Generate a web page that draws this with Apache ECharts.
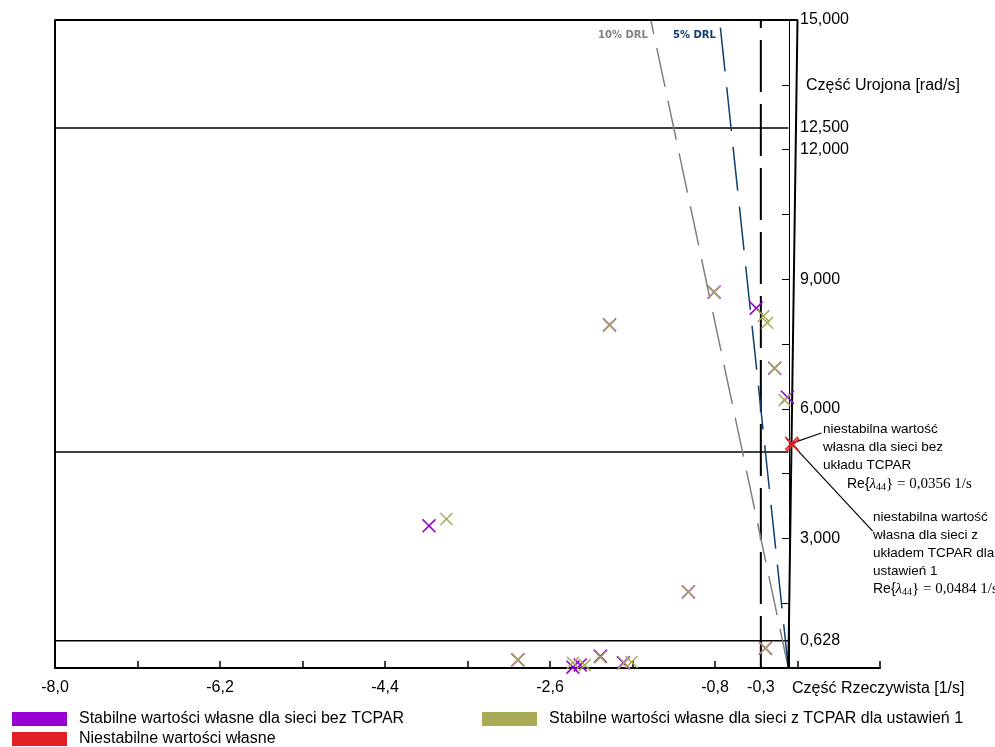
<!DOCTYPE html>
<html>
<head>
<meta charset="utf-8">
<script src="https://cdn.jsdelivr.net/npm/echarts@6/dist/echarts.min.js"></script>
<style>html,body{margin:0;padding:0;background:#fff}#c{width:995px;height:747px}</style>
</head>
<body>
<div id="c"></div>
<script>
// ---- data (real part [1/s], imaginary part [rad/s]) ----
const seriesNames = [
  'Stabilne wartości własne dla sieci bez TCPAR',
  'Stabilne wartości własne dla sieci z TCPAR dla ustawień 1',
  'Niestabilne wartości własne'
];
const stableNoTcpar = [
  [-3.92, 3.29], [-0.35, 8.33], [-0.01, 6.27], [-0.81, 8.70], [-0.15, 6.94],
  [-1.09, 1.76], [-2.95, 0.19], [-0.25, 0.46], [-1.95, 7.94],
  [-2.35, 0.02], [-2.27, 0.07], [-2.05, 0.27], [-1.80, 0.12]
];
const stableTcpar = [
  [-3.73, 3.45], [-1.95, 7.94], [-0.81, 8.70], [-0.27, 8.15], [-0.23, 7.99],
  [-0.15, 6.94], [-0.04, 6.20], [-1.09, 1.76], [-2.95, 0.19], [-0.25, 0.46],
  [-2.35, 0.12], [-2.22, 0.07], [-2.05, 0.25], [-1.79, 0.12], [-1.71, 0.14]
];
const unstable = [[0.0356, 5.20], [0.0484, 5.16]];
const drl10 = [[0, 0], [-1.50, 15]];
const drl5 = [[0, 0], [-0.75, 15]];
const refLines = [12.5, 5.0, 0.628];
const xTickValues = [-8, -7.1, -6.2, -5.3, -4.4, -3.5, -2.6, -1.7, -0.8, 0.1, 1.0];
const xLabelValues = [-8, -6.2, -4.4, -2.6, -0.8, -0.3];
const yTickValues = [0, 1.5, 3, 4.5, 6, 7.5, 9, 10.5, 12, 13.5, 15];
const yLabelValues = [0.628, 3, 6, 9, 12, 12.5, 15];
const xDashedLine = -0.3;
const frameLine = [[-8, 0], [-8, 15], [0.1, 15], [0, 0]];
const leader1 = [[0.0356, 5.20], [0.36, 5.44]];
const leader2 = [[0.0484, 5.16], [0.92, 3.17]];

const FONT = '"Liberation Sans", Arial, sans-serif';
const SERIF = '"Liberation Serif", "Times New Roman", serif';
const XSYM = 'path://M0.8,0 L5,4.2 L9.2,0 L10,0.8 L5.8,5 L10,9.2 L9.2,10 L5,5.8 L0.8,10 L0,9.2 L4.2,5 L0,0.8 Z';
const PURPLE = '#9400d3', OLIVE = '#a8aa55', RED = '#e31e24';

const chart = echarts.init(document.getElementById('c'), null, {renderer: 'canvas'});

function plainLine(data, color, width, type, z) {
  return {
    type: 'line', data: data, symbol: 'none', silent: true, clip: false, z: z || 2,
    lineStyle: {color: color, width: width, type: type || 'solid'}, animation: false
  };
}

const series = [];
series.push(plainLine(frameLine, '#000', 2, 'solid', 3));
refLines.forEach(v => series.push(plainLine([[-8, v], [0, v]], '#000', 1.5)));
series.push(plainLine([[xDashedLine, 0], [xDashedLine, 15]], '#000', 2, [52, 12]));
series.push(plainLine(drl10, '#808080', 1.5, [40, 14]));
series.push(plainLine(drl5, '#0d3f73', 1.5, [44, 16]));
series.push(plainLine(leader1, '#000', 1.2, 'solid', 4));
series.push(plainLine(leader2, '#000', 1.2, 'solid', 4));
series.push({name: seriesNames[0], type: 'scatter', data: stableNoTcpar, symbol: XSYM, symbolSize: 14, itemStyle: {color: PURPLE, opacity: 1}, z: 5, clip: false});
series.push({name: seriesNames[1], type: 'scatter', data: stableTcpar, symbol: XSYM, symbolSize: 13, itemStyle: {color: OLIVE, opacity: 1}, z: 6, clip: false});
series.push({name: seriesNames[2], type: 'scatter', data: unstable, symbol: XSYM, symbolSize: 14, itemStyle: {color: RED, opacity: 1}, z: 7, clip: false});

const legendCommon = {
  icon: 'rect', itemWidth: 55, itemHeight: 14, padding: 0, selectedMode: false,
  textStyle: {fontSize: 16, color: '#000', fontFamily: FONT, padding: [0, 0, 0, 7]}
};

const txt = (text, x, y, extra) => ({
  type: 'text', x: x, y: y, silent: true,
  style: Object.assign({text: text, fill: '#000', font: '13.5px ' + FONT, verticalAlign: 'middle'}, extra || {})
});
const reRich = {
  a: {fontFamily: FONT, fontSize: 14},
  l: {fontFamily: SERIF, fontSize: 15, fontStyle: 'italic'},
  s: {fontFamily: SERIF, fontSize: 10, verticalAlign: 'bottom', padding: [6, 0, 0, 0]}
};
const reText = (val, x, y) => ({
  type: 'text', x: x, y: y, silent: true,
  style: {text: '{a|Re{}{l|λ}{s|44}} = ' + val + ' 1/s', fill: '#000', font: '15px ' + SERIF, verticalAlign: 'middle', rich: reRich}
});

chart.setOption({
  animation: false,
  backgroundColor: '#fff',
  grid: {left: 55, right: 115, top: 20, bottom: 79, containLabel: false},
  xAxis: {
    type: 'value', min: -8, max: 1.0, interval: 0.9,
    axisLine: {onZero: false, lineStyle: {color: '#000', width: 2}},
    axisTick: {show: true, inside: true, length: 7, lineStyle: {color: '#000', width: 1.5}, customValues: xTickValues},
    axisLabel: {
      color: '#000', fontSize: 16, fontFamily: FONT, margin: 12,
      customValues: xLabelValues, showMinLabel: true, showMaxLabel: true,
      formatter: v => v.toFixed(1).replace('.', ',')
    },
    splitLine: {show: false}
  },
  yAxis: {
    type: 'value', min: 0, max: 15, interval: 1.5, position: 'right', offset: -91,
    axisLine: {onZero: false, lineStyle: {color: '#000', width: 1}},
    axisTick: {show: true, inside: true, length: 7, lineStyle: {color: '#000', width: 1}, customValues: yTickValues},
    axisLabel: {
      color: '#000', fontSize: 16, fontFamily: FONT, margin: 11,
      customValues: yLabelValues, showMinLabel: true, showMaxLabel: true,
      formatter: v => v.toFixed(3).replace('.', ',')
    },
    splitLine: {show: false}
  },
  legend: [
    Object.assign({data: [seriesNames[0]], left: 12, top: 711}, legendCommon),
    Object.assign({data: [seriesNames[1]], left: 482, top: 711}, legendCommon),
    Object.assign({data: [seriesNames[2]], left: 12, top: 731}, legendCommon)
  ],
  graphic: [
    txt('Część Urojona [rad/s]', 806, 86, {font: '16px ' + FONT}),
    txt('Część Rzeczywista [1/s]', 792, 689, {font: '16px ' + FONT}),
    txt('10% DRL', 598, 35, {font: 'bold 10px "DejaVu Sans", sans-serif', fill: '#808080'}),
    txt('5% DRL', 673, 35, {font: 'bold 10px "DejaVu Sans", sans-serif', fill: '#0d3f73'}),
    txt('niestabilna wartość', 823, 429),
    txt('własna dla sieci bez', 823, 447),
    txt('układu TCPAR', 823, 465),
    reText('0,0356', 847, 484),
    txt('niestabilna wartość', 873, 517),
    txt('własna dla sieci z', 873, 535),
    txt('układem TCPAR dla', 873, 553),
    txt('ustawień 1', 873, 571),
    reText('0,0484', 873, 589)
  ],
  series: series
});
</script>
</body>
</html>
